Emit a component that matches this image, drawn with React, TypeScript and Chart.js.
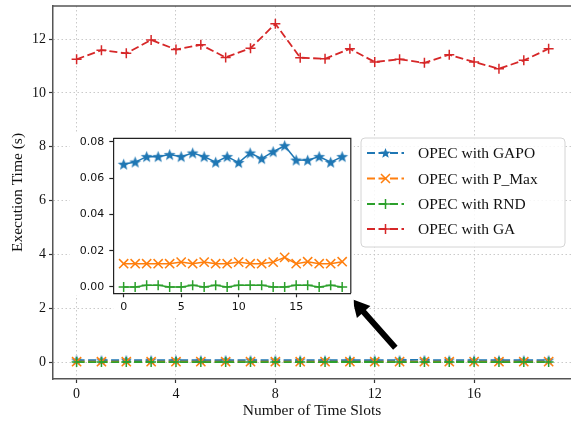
import React, { useEffect, useRef } from 'react';
import { Chart, registerables } from 'chart.js';
Chart.register(...registerables);

const timeSlots = [0, 1, 2, 3, 4, 5, 6, 7, 8, 9, 10, 11, 12, 13, 14, 15, 16, 17, 18, 19];
const gapoTimes = [0.0676, 0.0688, 0.0718, 0.0718, 0.0729, 0.0718, 0.0738, 0.0718, 0.0687, 0.0718, 0.0685, 0.0738, 0.0707, 0.0745, 0.0778, 0.0699, 0.0698, 0.0718, 0.0687, 0.0718];
const pmaxTimes = [0.0128, 0.0128, 0.0128, 0.0128, 0.0128, 0.0137, 0.0128, 0.0137, 0.0128, 0.0128, 0.0137, 0.0128, 0.0128, 0.0137, 0.0163, 0.0128, 0.0139, 0.0128, 0.0128, 0.0139];
const rndTimes = [0.0, 0.0, 0.0009, 0.0009, 0.0, 0.0, 0.0009, 0.0, 0.0009, 0.0, 0.0009, 0.0009, 0.0009, 0.0, 0.0, 0.0009, 0.0009, 0.0, 0.0009, 0.0];
const gaTimes = [11.25, 11.59, 11.47, 11.97, 11.61, 11.79, 11.32, 11.66, 12.57, 11.31, 11.27, 11.64, 11.15, 11.25, 11.12, 11.42, 11.15, 10.9, 11.21, 11.64];

const seriesNames = ['OPEC with GAPO', 'OPEC with P_Max', 'OPEC with RND', 'OPEC with GA'];
const seriesColors = ['#1f77b4', '#ff7f0e', '#2ca02c', '#d62728'];
const seriesMarkers = ['star', 'x', 'plus', 'plus'];

const mainXTicks = [0, 4, 8, 12, 16];
const mainYTicks = [0, 2, 4, 6, 8, 10, 12];
const insetXTicks = [0, 5, 10, 15];
const insetYTicks = [0, 0.02, 0.04, 0.06, 0.08];

// arrow annotation (data units of the main axes): tail -> tip
const arrowTail = { x: 12.83, y: 0.53 };
const arrowTip = { x: 11.1, y: 2.33 };

const SERIF = '"Liberation Serif", "Times New Roman", serif';
const SANS = '"DejaVu Sans", "Noto Sans", sans-serif';

function starCanvas(size: number, color: string) {
  const c = document.createElement('canvas');
  c.width = size;
  c.height = size;
  const ctx = c.getContext('2d')!;
  const cx = size / 2, cy = size / 2 + 0.4, R = size / 2 - 0.3, r = R * 0.42;
  ctx.beginPath();
  for (let i = 0; i < 10; i++) {
    const a = -Math.PI / 2 + (i * Math.PI) / 5;
    const rad = i % 2 === 0 ? R : r;
    ctx.lineTo(cx + rad * Math.cos(a), cy + rad * Math.sin(a));
  }
  ctx.closePath();
  ctx.fillStyle = color;
  ctx.fill();
  return c;
}

function drawMarker(ctx: CanvasRenderingContext2D, kind: string, x: number, y: number, color: string) {
  ctx.save();
  ctx.strokeStyle = color;
  ctx.fillStyle = color;
  ctx.lineWidth = 1.5;
  ctx.setLineDash([]);
  if (kind === 'star') {
    const R = 5.5, r = R * 0.42;
    ctx.beginPath();
    for (let i = 0; i < 10; i++) {
      const a = -Math.PI / 2 + (i * Math.PI) / 5;
      const rad = i % 2 === 0 ? R : r;
      ctx.lineTo(x + rad * Math.cos(a), y + 0.4 + rad * Math.sin(a));
    }
    ctx.closePath();
    ctx.fill();
  } else if (kind === 'x') {
    const d = 4.5;
    ctx.beginPath();
    ctx.moveTo(x - d, y - d); ctx.lineTo(x + d, y + d);
    ctx.moveTo(x - d, y + d); ctx.lineTo(x + d, y - d);
    ctx.stroke();
  } else {
    const d = 5;
    ctx.beginPath();
    ctx.moveTo(x - d, y); ctx.lineTo(x + d, y);
    ctx.moveTo(x, y - d); ctx.lineTo(x, y + d);
    ctx.stroke();
  }
  ctx.restore();
}

function toXY(vals: number[]) {
  return timeSlots.map((t, i) => ({ x: t, y: vals[i] }));
}

function zeroPad(s: any) {
  s.paddingTop = 0;
  s.paddingBottom = 0;
  s.paddingLeft = 0;
  s.paddingRight = 0;
}

export default function App() {
  const mainRef = useRef<HTMLCanvasElement>(null);
  const insetRef = useRef<HTMLCanvasElement>(null);

  useEffect(() => {
    document.body.style.margin = '0';
    const allVals = [gapoTimes, pmaxTimes, rndTimes, gaTimes];

    const pointStyleFor = (i: number, size: number) => {
      const m = seriesMarkers[i];
      if (m === 'star') return starCanvas(size, seriesColors[i]);
      if (m === 'x') return 'crossRot';
      return 'cross';
    };
    const radiusFor = (i: number) => (seriesMarkers[i] === 'x' ? 6.5 : 5);

    const framePlugin = {
      id: 'frameTop',
      afterDraw(chart: any) {
        const { ctx, chartArea } = chart;
        ctx.save();
        ctx.strokeStyle = '#555';
        ctx.lineWidth = 1.5;
        ctx.beginPath();
        ctx.moveTo(chartArea.left - 0.75, chartArea.top);
        ctx.lineTo(chartArea.right + 2, chartArea.top);
        ctx.stroke();
        ctx.restore();
      },
    };

    const legendPlugin = {
      id: 'customLegend',
      afterDraw(chart: any) {
        const { ctx } = chart;
        const bx = 361, by = 138, bw = 204, bh = 109, rr = 4;
        ctx.save();
        ctx.beginPath();
        ctx.moveTo(bx + rr, by);
        ctx.arcTo(bx + bw, by, bx + bw, by + bh, rr);
        ctx.arcTo(bx + bw, by + bh, bx, by + bh, rr);
        ctx.arcTo(bx, by + bh, bx, by, rr);
        ctx.arcTo(bx, by, bx + bw, by, rr);
        ctx.closePath();
        ctx.fillStyle = 'rgba(255,255,255,0.85)';
        ctx.fill();
        ctx.strokeStyle = '#d4d4d4';
        ctx.lineWidth = 1;
        ctx.stroke();
        const rowY = [153, 178.5, 204, 229];
        seriesNames.forEach((name, i) => {
          const y = rowY[i];
          ctx.save();
          ctx.strokeStyle = seriesColors[i];
          ctx.lineWidth = 1.8;
          ctx.setLineDash([8, 3.5]);
          ctx.beginPath();
          ctx.moveTo(367, y);
          ctx.lineTo(404, y);
          ctx.stroke();
          ctx.restore();
          drawMarker(ctx, seriesMarkers[i], 385.5, y, seriesColors[i]);
          ctx.fillStyle = '#111';
          ctx.font = `15.5px ${SERIF}`;
          ctx.textBaseline = 'middle';
          ctx.textAlign = 'left';
          ctx.fillText(name, 418, y + 1);
        });
        ctx.restore();
      },
    };

    const arrowPlugin = {
      id: 'arrow',
      afterDraw(chart: any) {
        const { ctx, scales } = chart;
        const x1 = scales.x.getPixelForValue(arrowTail.x), y1 = scales.y.getPixelForValue(arrowTail.y);
        const x2 = scales.x.getPixelForValue(arrowTip.x), y2 = scales.y.getPixelForValue(arrowTip.y);
        const ang = Math.atan2(y2 - y1, x2 - x1);
        const headLen = 17, headHalf = 9, shaftHalf = 3;
        const bx = x2 - headLen * Math.cos(ang), by = y2 - headLen * Math.sin(ang);
        const px = -Math.sin(ang), py = Math.cos(ang);
        ctx.save();
        ctx.fillStyle = '#000';
        ctx.beginPath();
        ctx.moveTo(x1 + px * shaftHalf, y1 + py * shaftHalf);
        ctx.lineTo(bx + px * shaftHalf, by + py * shaftHalf);
        ctx.lineTo(bx + px * headHalf, by + py * headHalf);
        ctx.lineTo(x2, y2);
        ctx.lineTo(bx - px * headHalf, by - py * headHalf);
        ctx.lineTo(bx - px * shaftHalf, by - py * shaftHalf);
        ctx.lineTo(x1 - px * shaftHalf, y1 - py * shaftHalf);
        ctx.closePath();
        ctx.fill();
        ctx.restore();
      },
    };

    const mainChart = new Chart(mainRef.current!, {
      type: 'line',
      data: {
        datasets: allVals.map((vals, i) => ({
          label: seriesNames[i],
          data: toXY(vals),
          borderColor: seriesColors[i],
          backgroundColor: seriesColors[i],
          borderWidth: 1.8,
          borderDash: [8, 3.5],
          pointStyle: pointStyleFor(i, 12) as any,
          pointRadius: radiusFor(i),
          pointBorderWidth: 1.5,
          pointBorderColor: seriesColors[i],
          pointBackgroundColor: seriesColors[i],
          fill: false,
          tension: 0,
          order: 3 - i,
        })),
      },
      options: {
        animation: false,
        responsive: false,
        maintainAspectRatio: false,
        layout: { autoPadding: false, padding: { top: 6, right: 0, left: 0, bottom: 0 } },
        plugins: { legend: { display: false }, tooltip: { enabled: false } },
        scales: {
          x: {
            type: 'linear',
            min: -0.95,
            max: 19.9,
            afterBuildTicks: (s: any) => { s.ticks = mainXTicks.map((v) => ({ value: v })); },
            afterFit: (s: any) => { s.height = 46; zeroPad(s); },
            grid: { color: '#c4c4c4', lineWidth: 0.9, tickColor: '#333', tickLength: 4, tickWidth: 1.2 },
            border: { color: '#555', width: 1.5, dash: [1.5, 2.5] },
            ticks: { color: '#111', font: { family: SERIF, size: 14 }, padding: 3, maxRotation: 0, autoSkip: false, callback: (v: any) => String(v) },
            title: { display: true, text: 'Number of Time Slots', color: '#111', font: { family: SERIF, size: 15.5 }, padding: { top: 0, bottom: 5 } },
          },
          y: {
            type: 'linear',
            min: -0.63,
            max: 13.23,
            afterBuildTicks: (s: any) => { s.ticks = mainYTicks.map((v) => ({ value: v })); },
            afterFit: (s: any) => { s.width = 53; zeroPad(s); },
            grid: { color: '#c4c4c4', lineWidth: 0.9, tickColor: '#333', tickLength: 4, tickWidth: 1.2 },
            border: { color: '#555', width: 1.5, dash: [1.5, 2.5] },
            ticks: { color: '#111', font: { family: SERIF, size: 14 }, padding: 3, autoSkip: false, callback: (v: any) => String(v) },
            title: { display: true, text: 'Execution Time (s)', color: '#111', font: { family: SERIF, size: 15.5 }, padding: { top: 9, bottom: 0 } },
          },
        },
      } as any,
      plugins: [framePlugin, legendPlugin, arrowPlugin],
    });

    const insetBg = {
      id: 'insetBg',
      beforeDraw(chart: any) {
        const { ctx, chartArea } = chart;
        ctx.save();
        ctx.fillStyle = '#fff';
        ctx.fillRect(10, chartArea.top - 6, chartArea.right + 3 - 10, chartArea.bottom - chartArea.top + 8);
        ctx.fillRect(chartArea.left, chartArea.bottom, chartArea.right + 3 - chartArea.left, 24);
        ctx.restore();
      },
      afterDraw(chart: any) {
        const { ctx, chartArea } = chart;
        ctx.save();
        ctx.strokeStyle = '#222';
        ctx.lineWidth = 1.2;
        ctx.beginPath();
        ctx.moveTo(chartArea.left, chartArea.top);
        ctx.lineTo(chartArea.right, chartArea.top);
        ctx.lineTo(chartArea.right, chartArea.bottom);
        ctx.stroke();
        ctx.restore();
      },
    };

    const insetVals = [gapoTimes, pmaxTimes, rndTimes];
    const insetChart = new Chart(insetRef.current!, {
      type: 'line',
      data: {
        datasets: insetVals.map((vals, i) => ({
          label: seriesNames[i],
          data: toXY(vals),
          borderColor: seriesColors[i],
          backgroundColor: seriesColors[i],
          borderWidth: 1.5,
          pointStyle: pointStyleFor(i, 13) as any,
          pointRadius: radiusFor(i),
          pointBorderWidth: 1.5,
          pointBorderColor: seriesColors[i],
          pointBackgroundColor: seriesColors[i],
          fill: false,
          tension: 0,
          order: 3 - i,
        })),
      },
      options: {
        animation: false,
        responsive: false,
        maintainAspectRatio: false,
        layout: { autoPadding: false, padding: { top: 13.3, right: 9.2, left: 0, bottom: 0 } },
        plugins: { legend: { display: false }, tooltip: { enabled: false } },
        scales: {
          x: {
            type: 'linear',
            min: -0.9,
            max: 19.75,
            afterBuildTicks: (s: any) => { s.ticks = insetXTicks.map((v) => ({ value: v })); },
            afterFit: (s: any) => { s.height = 31.7; zeroPad(s); },
            grid: { drawOnChartArea: false, tickColor: '#222', tickLength: 4, tickWidth: 1.2 },
            border: { color: '#222', width: 1.2 },
            ticks: { color: '#111', font: { family: SANS, size: 11 }, padding: 3, maxRotation: 0, autoSkip: false, callback: (v: any) => String(v) },
          },
          y: {
            type: 'linear',
            min: -0.0035,
            max: 0.0819,
            afterBuildTicks: (s: any) => { s.ticks = insetYTicks.map((v) => ({ value: v })); },
            afterFit: (s: any) => { s.width = 53.3; zeroPad(s); },
            grid: { drawOnChartArea: false, tickColor: '#222', tickLength: 4, tickWidth: 1.2 },
            border: { color: '#222', width: 1.2 },
            ticks: { color: '#111', font: { family: SANS, size: 11 }, padding: 5, autoSkip: false, callback: (v: any) => Number(v).toFixed(2) },
          },
        },
      } as any,
      plugins: [insetBg],
    });

    return () => {
      mainChart.destroy();
      insetChart.destroy();
    };
  }, []);

  return (
    <div style={{ position: 'fixed', left: 0, top: 0, width: 571, height: 425, overflow: 'hidden', background: '#fff' }}>
      <canvas ref={mainRef} width={571} height={425} style={{ position: 'absolute', left: 0, top: 0, width: 571, height: 425 }} />
      <canvas ref={insetRef} width={300} height={200} style={{ position: 'absolute', left: 60, top: 125, width: 300, height: 200 }} />
    </div>
  );
}
